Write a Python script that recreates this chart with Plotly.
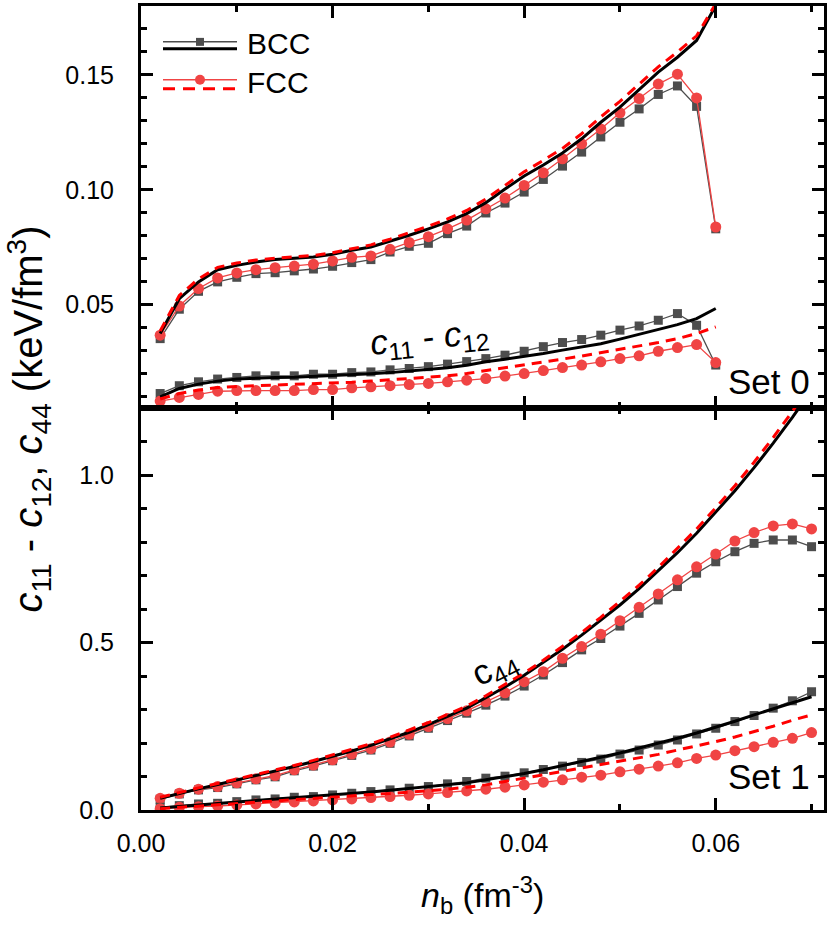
import plotly.graph_objects as go
from plotly.subplots import make_subplots

# ---- data ----
nb_set0 = [0.002, 0.004, 0.006, 0.008, 0.010, 0.012, 0.014, 0.016, 0.018, 0.020,
           0.022, 0.024, 0.026, 0.028, 0.030, 0.032, 0.034, 0.036, 0.038, 0.040,
           0.042, 0.044, 0.046, 0.048, 0.050, 0.052, 0.054, 0.056, 0.058, 0.060]
nb_set1 = nb_set0 + [0.062, 0.064, 0.066, 0.068, 0.070]

# Set 0, c44
c44_bcc_pts0 = [0.0352, 0.0480, 0.0558, 0.0599, 0.0619, 0.0635, 0.0639, 0.0647, 0.0655, 0.0667,
                0.0683, 0.0696, 0.0729, 0.0754, 0.0767, 0.0809, 0.0842, 0.0899, 0.0942, 0.0990,
                0.1045, 0.1103, 0.1164, 0.1230, 0.1294, 0.1352, 0.1415, 0.1452, 0.1363, 0.0830]
c44_fcc_pts0 = [0.0367, 0.0494, 0.0570, 0.0616, 0.0638, 0.0652, 0.0661, 0.0668, 0.0676, 0.0690,
                0.0706, 0.0712, 0.0741, 0.0771, 0.0796, 0.0830, 0.0868, 0.0917, 0.0964, 0.1019,
                0.1074, 0.1135, 0.1200, 0.1265, 0.1335, 0.1397, 0.1460, 0.1503, 0.1400, 0.0838]
c44_bcc_line0 = [0.0374, 0.0526, 0.0599, 0.0652, 0.0671, 0.0686, 0.0696, 0.0700, 0.0707, 0.0719,
                 0.0737, 0.0751, 0.0776, 0.0802, 0.0830, 0.0860, 0.0896, 0.0944, 0.1003, 0.1060,
                 0.1108, 0.1160, 0.1222, 0.1294, 0.1360, 0.1437, 0.1512, 0.1577, 0.1650, 0.1802]
c44_fcc_line0 = [0.0385, 0.0540, 0.0612, 0.0662, 0.0681, 0.0694, 0.0702, 0.0707, 0.0714, 0.0726,
                 0.0744, 0.0760, 0.0785, 0.0812, 0.0842, 0.0873, 0.0910, 0.0960, 0.1020, 0.1078,
                 0.1128, 0.1180, 0.1244, 0.1317, 0.1385, 0.1462, 0.1535, 0.1600, 0.1670, 0.1810]

# Set 0, c11 - c12
shear_bcc_pts0 = [0.0113, 0.0147, 0.0164, 0.0176, 0.0183, 0.0190, 0.0190, 0.0190, 0.0197, 0.0197,
                  0.0204, 0.0207, 0.0216, 0.0222, 0.0230, 0.0241, 0.0252, 0.0265, 0.0280, 0.0297,
                  0.0317, 0.0335, 0.0348, 0.0367, 0.0389, 0.0407, 0.0432, 0.0461, 0.0410, 0.0237]
shear_fcc_pts0 = [0.0080, 0.0096, 0.0109, 0.0123, 0.0126, 0.0126, 0.0126, 0.0126, 0.0130, 0.0130,
                  0.0138, 0.0142, 0.0147, 0.0152, 0.0157, 0.0164, 0.0171, 0.0178, 0.0189, 0.0200,
                  0.0213, 0.0226, 0.0237, 0.0251, 0.0265, 0.0277, 0.0297, 0.0313, 0.0326, 0.0248]
shear_bcc_line0 = [0.0098, 0.0135, 0.0154, 0.0167, 0.0176, 0.0181, 0.0183, 0.0184, 0.0187, 0.0190,
                   0.0194, 0.0199, 0.0204, 0.0210, 0.0217, 0.0225, 0.0236, 0.0251, 0.0262, 0.0273,
                   0.0287, 0.0302, 0.0316, 0.0330, 0.0350, 0.0371, 0.0389, 0.0413, 0.0439, 0.0483]
shear_fcc_line0 = [0.0089, 0.0113, 0.0128, 0.0139, 0.0144, 0.0147, 0.0149, 0.0150, 0.0153, 0.0157,
                   0.0162, 0.0167, 0.0172, 0.0178, 0.0184, 0.0190, 0.0200, 0.0212, 0.0224, 0.0237,
                   0.0250, 0.0263, 0.0276, 0.0290, 0.0305, 0.0319, 0.0335, 0.0352, 0.0374, 0.0403]

# Set 1, c44
c44_bcc_pts1 = [0.032, 0.048, 0.060, 0.067, 0.078, 0.090, 0.099, 0.117, 0.131, 0.147,
                0.163, 0.179, 0.199, 0.221, 0.244, 0.267, 0.289, 0.313, 0.340, 0.370,
                0.403, 0.440, 0.478, 0.512, 0.549, 0.587, 0.627, 0.667, 0.707, 0.741,
                0.771, 0.796, 0.806, 0.806, 0.786]
c44_fcc_pts1 = [0.035, 0.050, 0.062, 0.070, 0.081, 0.093, 0.103, 0.120, 0.134, 0.150,
                0.167, 0.183, 0.203, 0.226, 0.249, 0.273, 0.296, 0.323, 0.350, 0.383,
                0.413, 0.453, 0.488, 0.525, 0.565, 0.605, 0.645, 0.687, 0.726, 0.764,
                0.803, 0.828, 0.848, 0.854, 0.839]
c44_bcc_line1 = [0.035, 0.050, 0.063, 0.076, 0.089, 0.102, 0.116, 0.130, 0.145, 0.160,
                 0.176, 0.193, 0.212, 0.232, 0.255, 0.279, 0.304, 0.335, 0.367, 0.402,
                 0.440, 0.480, 0.522, 0.566, 0.612, 0.661, 0.713, 0.768, 0.826, 0.888,
                 0.953, 1.022, 1.095, 1.172, 1.253]
c44_fcc_line1 = [0.038, 0.053, 0.066, 0.079, 0.092, 0.105, 0.119, 0.133, 0.148, 0.164,
                 0.180, 0.198, 0.217, 0.238, 0.261, 0.285, 0.310, 0.341, 0.374, 0.409,
                 0.447, 0.488, 0.530, 0.575, 0.622, 0.671, 0.724, 0.780, 0.839, 0.902,
                 0.968, 1.038, 1.112, 1.190, 1.272]

# Set 1, c11 - c12
shear_bcc_pts1 = [0.008, 0.013, 0.018, 0.020, 0.025, 0.030, 0.033, 0.038, 0.040, 0.045,
                  0.050, 0.055, 0.060, 0.065, 0.070, 0.078, 0.085, 0.095, 0.101, 0.111,
                  0.121, 0.131, 0.142, 0.152, 0.167, 0.179, 0.194, 0.209, 0.227, 0.244,
                  0.264, 0.282, 0.304, 0.326, 0.353]
shear_fcc_pts1 = [0.004, 0.008, 0.010, 0.012, 0.015, 0.018, 0.021, 0.024, 0.027, 0.030,
                  0.033, 0.037, 0.040, 0.044, 0.048, 0.052, 0.057, 0.062, 0.068, 0.075,
                  0.083, 0.090, 0.098, 0.104, 0.114, 0.122, 0.131, 0.141, 0.154, 0.164,
                  0.177, 0.189, 0.202, 0.214, 0.231]
shear_bcc_line1 = [0.006, 0.011, 0.016, 0.020, 0.024, 0.028, 0.032, 0.036, 0.040, 0.045,
                   0.049, 0.054, 0.059, 0.064, 0.069, 0.075, 0.081, 0.090, 0.099, 0.109,
                   0.120, 0.132, 0.144, 0.157, 0.170, 0.185, 0.199, 0.214, 0.230, 0.247,
                   0.265, 0.284, 0.302, 0.320, 0.338]
shear_fcc_line1 = [0.004, 0.008, 0.012, 0.015, 0.019, 0.022, 0.026, 0.030, 0.034, 0.038,
                   0.042, 0.046, 0.049, 0.053, 0.057, 0.062, 0.068, 0.075, 0.085, 0.095,
                   0.104, 0.114, 0.124, 0.134, 0.144, 0.154, 0.166, 0.179, 0.191, 0.204,
                   0.218, 0.233, 0.250, 0.268, 0.284]

# ---- styling ----
FONT = 'Liberation Sans, Arial, sans-serif'
GRAY = '#4d4d4d'
RED = '#f04444'
W, H = 830, 931
ML, MR, MT, MB = 141, 6, 3, 121


def px(x):  # pixel -> paper x
    return (x - ML) / (W - ML - MR)


def py(y):  # pixel -> paper y
    return (H - MB - y) / (H - MT - MB)


fig = make_subplots(rows=2, cols=1, shared_xaxes=True, vertical_spacing=0)


def add_panel(row, x, bcc_pts, fcc_pts, bcc_line, fcc_line):
    fig.add_trace(go.Scatter(x=x, y=bcc_pts, mode='lines+markers',
                             line=dict(color=GRAY, width=1.3),
                             marker=dict(symbol='square', size=9, color=GRAY)),
                  row=row, col=1)
    fig.add_trace(go.Scatter(x=x, y=fcc_pts, mode='lines+markers',
                             line=dict(color=RED, width=1.3),
                             marker=dict(symbol='circle', size=11, color=RED)),
                  row=row, col=1)
    fig.add_trace(go.Scatter(x=x, y=bcc_line, mode='lines',
                             line=dict(color='black', width=3)),
                  row=row, col=1)
    fig.add_trace(go.Scatter(x=x, y=fcc_line, mode='lines',
                             line=dict(color='red', width=3, dash='10px,7px')),
                  row=row, col=1)


add_panel(1, nb_set0, c44_bcc_pts0, c44_fcc_pts0, c44_bcc_line0, c44_fcc_line0)
add_panel(1, nb_set0, shear_bcc_pts0, shear_fcc_pts0, shear_bcc_line0, shear_fcc_line0)
add_panel(2, nb_set1, c44_bcc_pts1, c44_fcc_pts1, c44_bcc_line1, c44_fcc_line1)
add_panel(2, nb_set1, shear_bcc_pts1, shear_fcc_pts1, shear_bcc_line1, shear_fcc_line1)

axis_style = dict(showline=True, linecolor='black', linewidth=3, mirror='allticks',
                  ticks='inside', ticklen=12, tickwidth=3, tickcolor='black',
                  showgrid=False, zeroline=False,
                  tickfont=dict(family=FONT, size=25, color='black'),
                  minor=dict(ticks='inside', ticklen=6, tickwidth=2.5, tickcolor='black',
                             showgrid=False))

fig.update_xaxes(**axis_style)
fig.update_yaxes(**axis_style)
fig.update_xaxes(range=[0, 0.0713], dtick=0.02, tick0=0, tickformat='.2f',
                 ticklabelstandoff=9)
fig.update_xaxes(minor_dtick=0.01)
fig.update_yaxes(range=[0.005, 0.18], dtick=0.05, tick0=0, tickformat='.2f',
                 minor_dtick=0.01, ticklabelstandoff=19, row=1, col=1)
fig.update_yaxes(range=[0, 1.2], dtick=0.5, tick0=0, tickformat='.1f',
                 minor_dtick=0.1, ticklabelstandoff=19, row=2, col=1)

# ---- legend drawn by hand (combined symbols) ----
shapes = [
    dict(type='line', x0=px(163), x1=px(237), y0=py(39), y1=py(39),
         line=dict(color=GRAY, width=1.5)),
    dict(type='rect', x0=px(196), x1=px(204), y0=py(35), y1=py(43),
         fillcolor=GRAY, line=dict(width=0)),
    dict(type='line', x0=px(163), x1=px(237), y0=py(46), y1=py(46),
         line=dict(color='black', width=3)),
    dict(type='line', x0=px(163), x1=px(237), y0=py(77), y1=py(77),
         line=dict(color=RED, width=1.5)),
    dict(type='circle', x0=px(195), x1=px(205), y0=py(72), y1=py(82),
         fillcolor=RED, line=dict(width=0)),
    dict(type='line', x0=px(163), x1=px(237), y0=py(86), y1=py(86),
         line=dict(color='red', width=3, dash='12px,8px')),
]
for s in shapes:
    s.update(xref='paper', yref='paper')


def font(size):
    return dict(family=FONT, size=size, color='black')


txt = dict(xref='paper', yref='paper', showarrow=False)
annotations = [
    dict(text='BCC', x=px(245), y=py(41), xanchor='left', yanchor='middle', font=font(30), **txt),
    dict(text='FCC', x=px(245), y=py(80), xanchor='left', yanchor='middle', font=font(30), **txt),
    dict(text='<i>c</i><sub>11</sub> - <i>c</i><sub>12</sub>', x=px(429), y=py(337),
         textangle=-6, xanchor='center', yanchor='middle', font=font(35), **txt),
    dict(text='c<sub>44</sub>', x=px(494), y=py(667), textangle=-27,
         xanchor='center', yanchor='middle', font=font(35), **txt),
    dict(text='Set 0', x=px(812), y=py(380), xanchor='right', yanchor='middle',
         font=font(35), **txt),
    dict(text='Set 1', x=px(812), y=py(776), xanchor='right', yanchor='middle',
         font=font(35), **txt),
    dict(text='<i>c</i><sub>11</sub> - <i>c</i><sub>12</sub>, <i>c</i><sub>44</sub> (keV/fm<sup>3</sup>)',
         x=px(29), y=py(418), textangle=-90, xanchor='center', yanchor='middle',
         font=font(40), **txt),
    dict(text='<i>n</i><sub>b</sub> (fm<sup>-3</sup>)', x=px(482), y=py(895),
         xanchor='center', yanchor='middle', font=font(34), **txt),
]

fig.update_layout(width=W, height=H, showlegend=False,
                  margin=dict(l=ML, r=MR, t=MT, b=MB),
                  plot_bgcolor='white', paper_bgcolor='white',
                  shapes=shapes, annotations=annotations)

fig.write_html("out.html", config={'displayModeBar': False},
               post_script="document.body.style.margin='0';")
